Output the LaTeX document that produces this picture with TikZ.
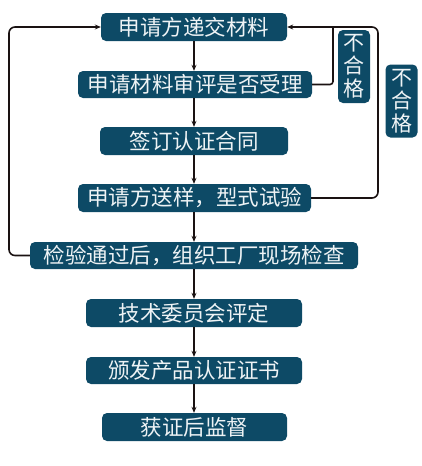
\documentclass[tikz,border=0pt]{standalone}
\usepackage{fontspec}
\setmainfont{Noto Sans CJK SC}
\usetikzlibrary{arrows.meta}
\definecolor{boxblue}{HTML}{0D4A66}
\definecolor{boxtext}{HTML}{EEF3F5}
\definecolor{linecol}{HTML}{1A1212}
\tikzset{
  stepbox/.style={fill=boxblue, rounded corners=5pt, text=boxtext, inner sep=0pt,
    font=\fontsize{21.5}{23}\selectfont, align=center},
  tagbox/.style={fill=boxblue, rounded corners=5pt, text=boxtext, inner sep=0pt,
    font=\fontsize{21}{23}\selectfont, align=center, minimum width=32pt, minimum height=73pt},
  conn/.style={draw=linecol, line width=1.6pt, -{Stealth[length=6pt,width=5pt]}},
  loopline/.style={draw=linecol, line width=1.6pt, rounded corners=6pt},
}
\begin{document}
\begin{tikzpicture}[x=1pt,y=-1pt]
\useasboundingbox (0,0) rectangle (421,466);
\node[stepbox, minimum width=186pt, minimum height=28pt] (b1) at (194,27) {申请方递交材料};
\node[stepbox, minimum width=234pt, minimum height=27pt] (b2) at (195,84.5) {申请材料审评是否受理};
\node[stepbox, minimum width=188pt, minimum height=28pt] (b3) at (194,141) {签订认证合同};
\node[stepbox, minimum width=233pt, minimum height=28pt] (b4) at (194.5,198) {申请方送样，型式试验};
\node[stepbox, minimum width=328pt, minimum height=27pt] (b5) at (194,255.5) {检验通过后，组织工厂现场检查};
\node[stepbox, minimum width=216pt, minimum height=28pt] (b6) at (194,313) {技术委员会评定};
\node[stepbox, minimum width=216pt, minimum height=27pt] (b7) at (194,370.5) {颁发产品认证证书};
\node[stepbox, minimum width=185pt, minimum height=28pt] (b8) at (194.5,427) {获证后监督};
\node[tagbox] (t1) at (354,66.5) {不\\合\\格};
\node[tagbox] (t2) at (401.5,101) {不\\合\\格};
\coordinate (j1) at (333,84.5);
\coordinate (j1t) at (333,27);
\coordinate (r1) at (378,198);
\coordinate (r2) at (378,27);
\coordinate (l1) at (9,255.5);
\coordinate (l2) at (9,27);
\draw[conn] (b1.south -| 194,0) -- (b2.north -| 194,0);
\draw[conn] (b2.south -| 194,0) -- (b3.north -| 194,0);
\draw[conn] (b3.south -| 194,0) -- (b4.north -| 194,0);
\draw[conn] (b4.south -| 194,0) -- (b5.north -| 194,0);
\draw[conn] (b5.south -| 194,0) -- (b6.north -| 194,0);
\draw[conn] (b6.south -| 194,0) -- (b7.north -| 194,0);
\draw[conn] (b7.south -| 194,0) -- (b8.north -| 194,0);
\draw[loopline, rounded corners=3pt] (b2.east) -- (j1) -- (j1t);
\draw[loopline, -{Stealth[length=6pt,width=5pt]}] (b4.east) -- (r1) -- (r2) -- (b1.east);
\draw[loopline, -{Stealth[length=6pt,width=5pt]}] (b5.west) -- (l1) -- (l2) -- (b1.west);
\end{tikzpicture}
\end{document}
